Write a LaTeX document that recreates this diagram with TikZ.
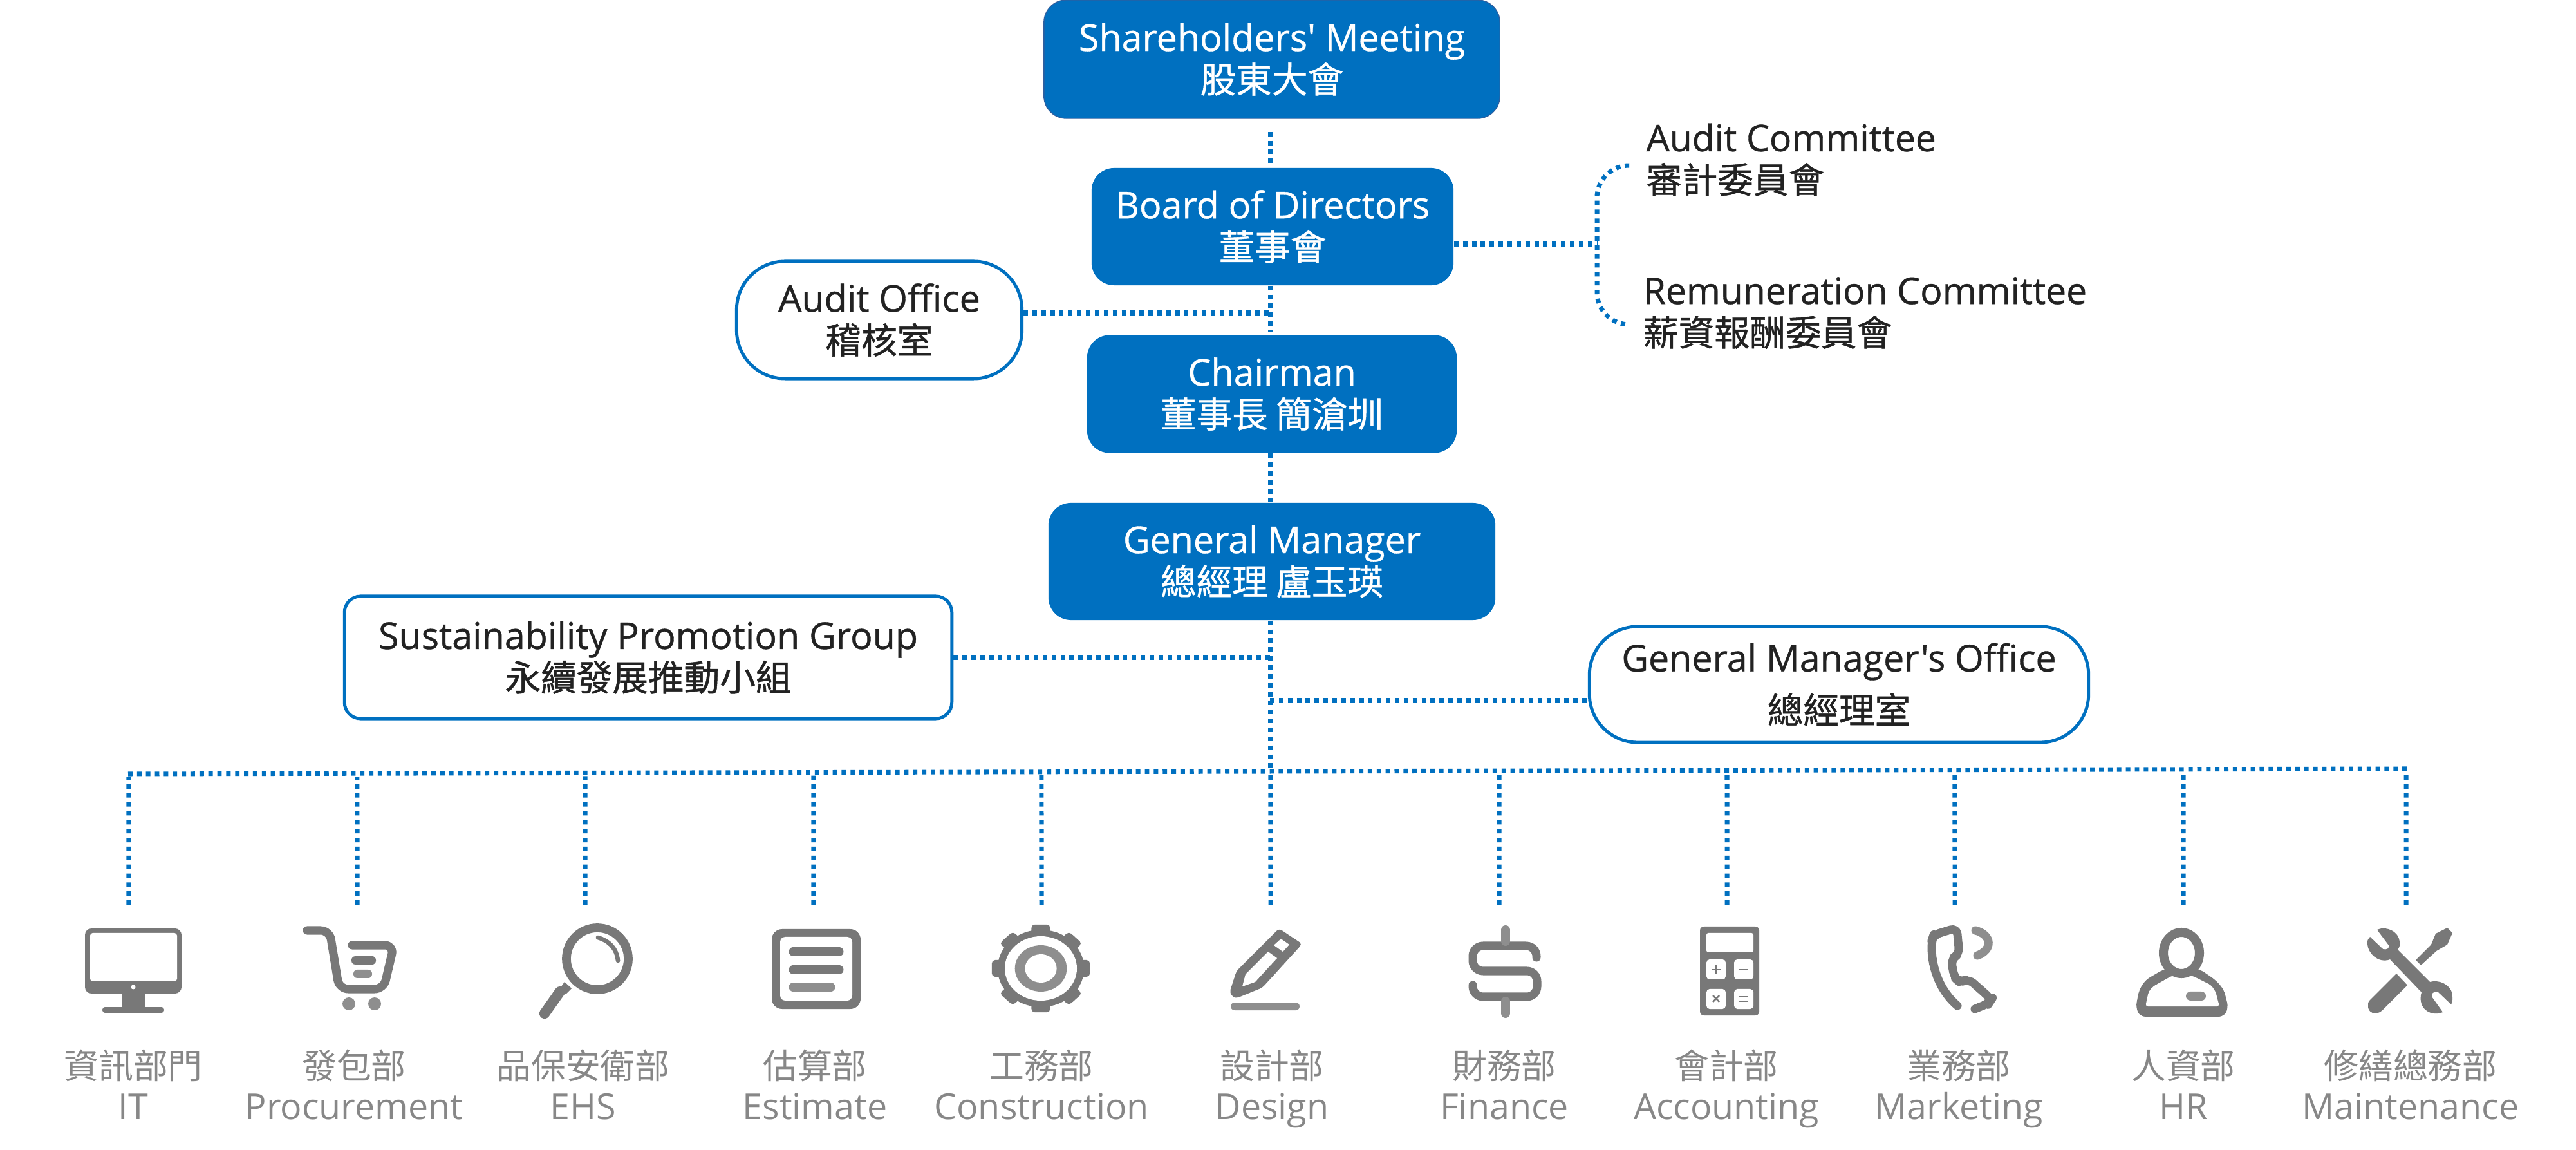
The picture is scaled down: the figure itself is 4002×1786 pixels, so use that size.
\documentclass[tikz,border=0pt]{standalone}
\usepackage{fontspec}
\setmainfont{Open Sans}
\newfontfamily\boxfont[FakeBold=0.7]{Open Sans}
\newfontfamily\cjk[Scale=0.97]{Noto Sans CJK TC}
\newfontfamily\cjkbox[Scale=0.97,FakeBold=0.9]{Noto Sans CJK TC}
\usetikzlibrary{calc,positioning}
\definecolor{corpblue}{HTML}{0070C0}
\definecolor{edgeblue}{HTML}{2F5F9F}
\definecolor{icongray}{HTML}{787878}
\definecolor{iconlight}{HTML}{8E8E8E}
\definecolor{labelgray}{HTML}{878787}
\definecolor{inkblack}{HTML}{222222}
\tikzset{
  bluebox/.style={fill=corpblue,text=white,rounded corners=.35cm,align=center,inner sep=0pt,font=\boxfont\fontsize{16.3}{18.5}\selectfont},
  whitebox/.style={draw=corpblue,line width=1.4pt,fill=white,text=inkblack,align=center,inner sep=0pt,font=\boxfont\fontsize{16.3}{18.5}\selectfont},
  sidetext/.style={text=inkblack,align=left,inner sep=0pt,anchor=west,font=\boxfont\fontsize{16.2}{18.5}\selectfont},
  deptlabel/.style={text=labelgray,align=center,inner sep=0pt,anchor=base,text depth=0pt,font=\fontsize{15.8}{17.9}\selectfont},
  dotline/.style={color=corpblue,line width=2pt,dash pattern=on 1.97pt off 1.97pt},
  iconfill/.style={fill=icongray},
  iconline/.style={draw=icongray,line width=3.7pt,line cap=round,line join=round},
}
\begin{document}
\begin{tikzpicture}[x=0.01cm,y=-0.01cm]
  \useasboundingbox (0,0) rectangle (4002,1786);
  \node[bluebox,draw=edgeblue,line width=.4pt,minimum width=7.08cm,minimum height=1.84cm] (SM) at (1976,92) {Shareholders' Meeting\\{\cjkbox 股東大會}};
  \node[bluebox,minimum width=5.62cm,minimum height=1.82cm] (BD) at (1977,352) {Board of Directors\\{\cjkbox 董事會}};
  \node[bluebox,minimum width=5.74cm,minimum height=1.83cm] (CH) at (1976,612) {Chairman\\{\cjkbox 董事長 簡滄圳}};
  \node[bluebox,minimum width=6.94cm,minimum height=1.82cm] (GM) at (1976,872) {General Manager\\{\cjkbox 總經理 盧玉瑛}};
  \node[whitebox,rounded corners=.75cm,minimum width=4.43cm,minimum height=1.82cm] (AO) at (1366,497) {Audit Office\\{\cjkbox 稽核室}};
  \node[whitebox,rounded corners=.25cm,minimum width=9.43cm,minimum height=1.90cm] (SG) at (1007,1021) {Sustainability Promotion Group\\{\cjkbox 永續發展推動小組}};
  \node[whitebox,rounded corners=.75cm,minimum width=7.75cm,minimum height=1.80cm] (GO) at (2857,1063) {General Manager's Office\\[4.5pt]{\cjkbox 總經理室}};
  \node[sidetext] (AC) at (2557,248) {Audit Committee\\{\cjkbox 審計委員會}};
  \node[sidetext] (RC) at (2552,486) {Remuneration Committee\\{\cjkbox 薪資報酬委員會}};

  \coordinate (trunk) at (1973,0);
  \coordinate (joinBD) at (2481,379);
  \coordinate (joinAO) at (1973,486);
  \coordinate (joinGO) at (1973,1088);
  \coordinate (endAC) at (2531,257);
  \coordinate (endRC) at (2531,504);
  \coordinate (busL) at (199,1202);
  \coordinate (busR) at (3739,1194);
  \coordinate (busT) at (1973,1198);

  \draw[dotline,shorten <=.2cm,shorten >=.06cm] (SM.south -| trunk) -- (BD.north -| trunk);
  \draw[dotline,shorten >=.05cm] (BD.south -| trunk) -- (CH.north -| trunk);
  \draw[dotline] (CH.south -| trunk) -- (GM.north -| trunk);
  \draw[dotline] (GM.south -| trunk) -- (busT);
  \draw[dotline] (joinBD -| BD.east) -- (joinBD);
  \draw[dotline,rounded corners=.5cm] (endAC) -- (endAC -| joinBD) -- (endRC -| joinBD) -- (endRC);
  \draw[dotline] (joinAO -| AO.east) -- (joinAO);
  \draw[dotline] (SG.east) -- (SG.east -| trunk);
  \draw[dotline] (joinGO) -- (joinGO -| GO.west);
  \draw[dotline] (busL) -- (busR);

  \foreach \n/\d/\x/\zh/\en in {IT/200/207/資訊部門/IT,PR/555/550/發包部/Procurement,EH/909/906/品保安衛部/EHS,ES/1264/1266/估算部/Estimate,CO/1618/1618/工務部/Construction,DE/1974/1976/設計部/Design,FI/2329/2337/財務部/Finance,AC/2683/2682/會計部/Accounting,MK/3037/3043/業務部/Marketing,HR/3392/3392/人資部/HR,MA/3738/3745/修繕總務部/Maintenance} {
    \coordinate (B\n) at ($(busL)!{(\d-199)/3540}!(busR)$);
    \coordinate (D\n) at (\d,1405);
    \draw[dotline,shorten >=.05cm] (D\n) -- (B\n);
    \node[deptlabel] (L\n) at (\x,1738) {{\cjk \zh}\\\en};
  }

  \fill[iconfill,rounded corners=.1cm] (132,1442) rectangle (282,1543);
  \fill[white,rounded corners=.04cm] (140,1449) rectangle (275,1524);
  \fill[white] (207,1533) circle [radius=3.5];
  \fill[iconfill] (189,1543) rectangle (225,1564);
  \fill[iconfill,rounded corners=.04cm] (159,1564) rectangle (255,1573);

  \draw[iconline,rounded corners=.14cm] (477,1445) -- (512,1445) -- (527,1536) -- (596,1536) -- (612,1468) -- (547,1468);
  \fill[iconfill,rounded corners=.06cm] (546,1485) rectangle (584,1498);
  \fill[iconlight,rounded corners=.06cm] (549,1506) rectangle (578,1519);
  \fill[iconlight] (542,1559) circle [radius=10];
  \fill[iconlight] (582,1559) circle [radius=10];

  \draw[icongray,line width=3.9pt] (928,1489) circle [radius=48];
  \draw[iconline,line width=1.9pt] (929,1456) .. controls (948,1462) and (958,1474) .. (960,1492);
  \draw[iconline,line width=4.6pt] (870,1540) -- (846,1574);
  \fill[iconfill] (877,1525) -- (888,1535) -- (879,1544) -- (870,1535) -- cycle;

  \fill[iconfill,rounded corners=.16cm] (1199,1443) rectangle (1337,1567);
  \fill[white,rounded corners=.08cm] (1212,1455) rectangle (1324,1554);
  \draw[iconline] (1232,1478) -- (1304,1478);
  \draw[iconline] (1232,1506) -- (1304,1506);
  \draw[iconline,draw=iconlight] (1232,1533) -- (1291,1533);

  \begin{scope}[shift={(1617,1504)},xscale=1.12]
    \foreach \a in {0,45,...,315} {
      \fill[iconfill,rotate=\a,rounded corners=.05cm] (-13,-68) rectangle (13,-52);
    }
    \fill[iconfill] (0,0) circle [radius=60];
    \fill[white] (0,0) circle [radius=50];
    \fill[iconlight] (0,0) circle [radius=36];
    \fill[white] (0,0) circle [radius=22];
  \end{scope}

  \fill[iconfill,rounded corners=.05cm] (1987,1442) -- (2023,1466) -- (1961,1534) -- (1919,1551) -- (1910,1542) -- (1921,1508) -- cycle;
  \fill[white] (1990,1458) -- (2003,1467) -- (1993,1478) -- (1979,1468) -- cycle;
  \fill[white] (1970,1478) -- (1984,1488) -- (1950,1525) -- (1930,1532) -- (1935,1513) -- cycle;
  \fill[iconlight,rounded corners=.06cm] (1912,1557) rectangle (2019,1569);

  \draw[iconline,rounded corners=.16cm] (2387,1487) -- (2387,1469) -- (2288,1469) -- (2288,1508) -- (2388,1508) -- (2388,1548) -- (2288,1548) -- (2288,1530);
  \draw[iconline,draw=iconlight,line width=4pt] (2339,1444) -- (2339,1462);
  \draw[iconline,draw=iconlight,line width=4pt] (2339,1555) -- (2339,1574);

  \fill[iconfill,rounded corners=.06cm] (2641,1439) rectangle (2733,1577);
  \fill[white,rounded corners=.03cm] (2651,1449) rectangle (2724,1479);
  \foreach \bx in {2651,2694} {
    \foreach \by in {1490,1536} {
      \fill[white,rounded corners=.05cm] (\bx,\by) rectangle ++(30,31);
    }
  }
  \draw[icongray,line width=.7pt] (2666,1499) -- (2666,1513) (2659,1506) -- (2673,1506);
  \draw[icongray,line width=.7pt] (2702,1506) -- (2716,1506);
  \draw[icongray,line width=.7pt] (2661,1546) -- (2671,1556) (2661,1556) -- (2671,1546);
  \draw[icongray,line width=.7pt] (2702,1548) -- (2716,1548) (2702,1555) -- (2716,1555);

  \draw[iconline,rounded corners=.1cm] (3041,1562) .. controls (3015,1540) and (3001,1505) .. (3001,1461) -- (3004,1452) -- (3040,1441) -- (3044,1482) -- (3031,1489) -- (3036,1518) -- (3045,1526) -- (3058,1520) -- (3094,1552) -- (3090,1558) -- (3068,1567);
  \draw[iconline,draw=iconlight] (3069,1445) .. controls (3095,1452) and (3096,1475) .. (3072,1484);

  \fill[iconfill,rounded corners=.08cm] (3362,1505) -- (3333,1522) -- (3323,1538) -- (3318,1565) -- (3325,1579) -- (3455,1579) -- (3462,1565) -- (3455,1537) -- (3442,1522) -- (3417,1505) -- cycle;
  \fill[white,rounded corners=.04cm] (3375,1515) -- (3345,1532) -- (3338,1540) -- (3333,1563) -- (3448,1563) -- (3442,1540) -- (3435,1530) -- (3405,1515) -- (3390,1518) -- cycle;
  \fill[iconlight,rounded corners=.07cm] (3396,1540) rectangle (3427,1554);
  \draw[icongray,fill=white,line width=4pt] (3389,1480) ellipse [x radius=28,y radius=32];

  \fill[iconfill] (3693,1444) .. controls (3705,1438) and (3728,1445) .. (3728,1465) .. controls (3728,1470) .. (3725,1475) -- (3775,1525) .. controls (3795,1520) and (3812,1535) .. (3810,1550) .. controls (3810,1555) .. (3808,1560) -- (3787,1540) .. controls (3781,1538) and (3776,1545) .. (3778,1548) -- (3795,1572) .. controls (3775,1580) and (3755,1565) .. (3762,1541) -- (3713,1490) .. controls (3695,1497) and (3678,1480) .. (3678,1465) .. controls (3678,1460) .. (3682,1455) -- (3702,1474) .. controls (3708,1476) and (3713,1472) .. (3711,1468) -- cycle;
  \fill[iconfill] (3802,1441) -- (3810,1449) -- (3802,1467) -- (3785,1477) -- (3761,1499) -- (3753,1491) -- (3777,1467) -- (3784,1450) -- cycle;
  \fill[iconfill] (3723,1512) -- (3740,1530) -- (3700,1570) .. controls (3690,1578) and (3678,1572) .. (3679,1562) .. controls (3679,1557) .. (3682,1553) -- cycle;
\end{tikzpicture}
\end{document}
